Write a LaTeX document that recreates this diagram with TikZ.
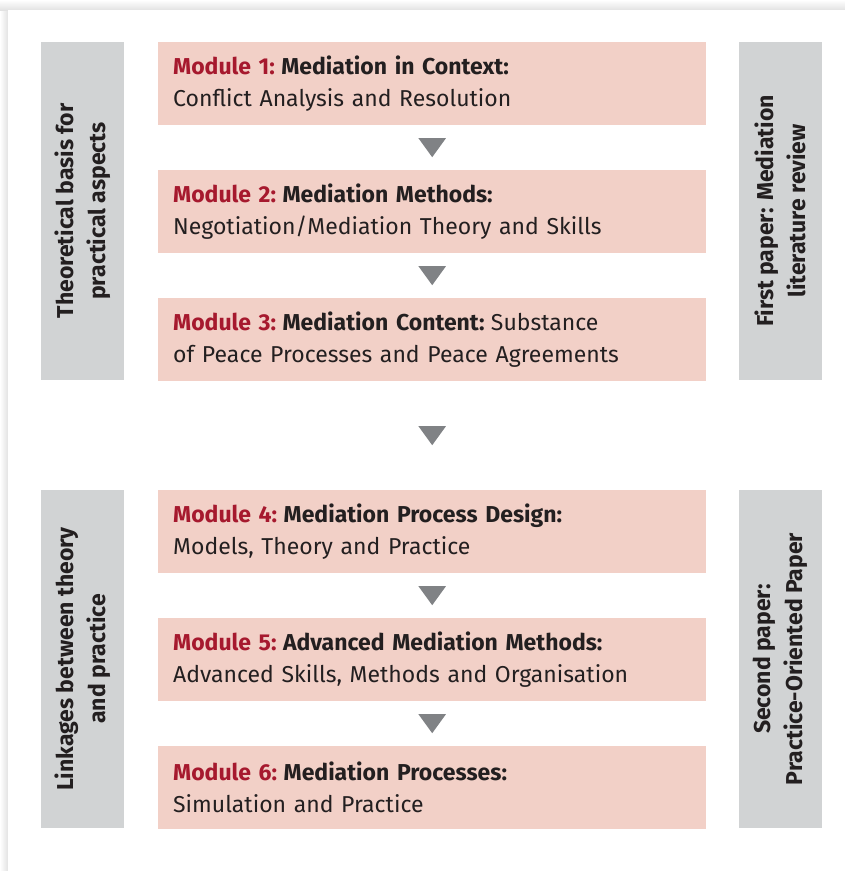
\documentclass[tikz,border=0pt]{standalone}
\usepackage{fontspec}
\setmainfont{Fira Sans}
\usepackage{tikz}
\usetikzlibrary{calc}
\usepackage{xcolor}
\definecolor{boxpink}{HTML}{F2D0C7}
\definecolor{bargray}{HTML}{D1D3D4}
\definecolor{modred}{HTML}{A6192E}
\definecolor{textdark}{HTML}{231F20}
\definecolor{tipgray}{HTML}{808285}
\definecolor{shadowgray}{HTML}{E2E2E2}
\newcommand{\csp}{\hspace{0.28em}}
\newcommand{\modhead}[2]{\textbf{\color{modred}Module #1:}\csp\textbf{#2}}

\begin{document}
\begin{tikzpicture}[x=1pt, y=-1pt,
  module/.style={fill=boxpink, anchor=north west, minimum width=548pt, minimum height=83pt,
    text width=518pt, inner xsep=15pt, align=left, text=textdark,
    font=\fontsize{23}{32}\selectfont},
  sidebar/.style={fill=bargray, rotate=90, minimum width=338pt, minimum height=83pt,
    align=center, text=textdark, font=\bfseries\fontsize{23}{32}\selectfont},
  tip/.style={fill=tipgray}]
% Background with shadow
\fill[white] (0,0) rectangle (845,871);
\shade[left color=white, right color=shadowgray] (0,0) rectangle (8,871);
\shade[top color=white, bottom color=shadowgray] (0,0) rectangle (845,10);
\fill[white] (8,10) rectangle (845,871);

% Modules 1-3
\node[module] (m1) at (158,42) {\modhead{1}{Mediation in Context:}\\Conflict Analysis and Resolution};
\node[module] (m2) at (158,170) {\modhead{2}{Mediation Methods:}\\Negotiation/Mediation Theory and Skills};
\node[module] (m3) at (158,298) {\modhead{3}{Mediation Content:}\csp Substance\\of Peace Processes and Peace Agreements};
% Modules 4-6
\node[module] (m4) at (158,490) {\modhead{4}{Mediation Process Design:}\\Models, Theory and Practice};
\node[module] (m5) at (158,618) {\modhead{5}{Advanced Mediation Methods:}\\Advanced Skills, Methods and Organisation};
\node[module] (m6) at (158,746) {\modhead{6}{Mediation Processes:}\\Simulation and Practice};

% Side bars
\node[sidebar] (theory) at (82.5,211) {Theoretical basis for\\practical aspects};
\node[sidebar] (paper1) at (780.5,211) {First paper: Mediation\\literature review};
\node[sidebar] (links) at (82.5,659) {Linkages between theory\\and practice};
\node[sidebar] (paper2) at (780.5,659) {Second paper:\\Practice-Oriented Paper};

% Triangles between modules
\foreach \a/\b in {m1/m2, m2/m3, m3/m4, m4/m5, m5/m6} {
  \path (\a.south) -- (\b.north) coordinate[midway] (t-\a);
  \fill[tip] ($(t-\a)+(-13.75,-9.5)$) -- ++(27.5,0) -- ++(-13.75,19) -- cycle;
}
\end{tikzpicture}
\end{document}
